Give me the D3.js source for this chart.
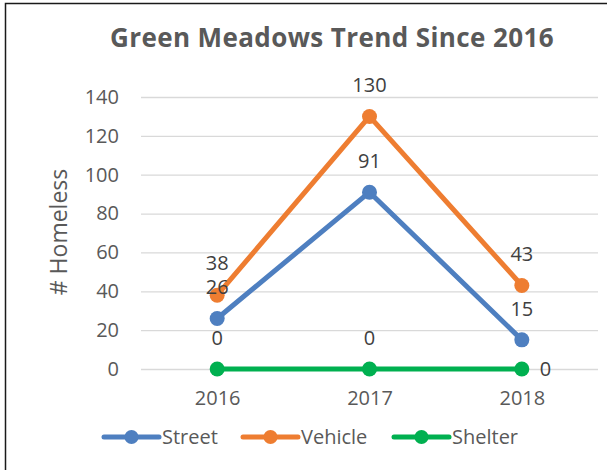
<!DOCTYPE html>
<html>
<head>
<meta charset="utf-8">
<script src="https://cdn.jsdelivr.net/npm/d3@7"></script>
<style>
  body { margin: 0; background: #fff; }
  svg { display: block; font-family: "Open Sans", "Noto Sans", sans-serif; }
</style>
</head>
<body>
<div id="chart"></div>
<script>
var years = ["2016", "2017", "2018"];
var street = [26, 91, 15];
var vehicle = [38, 130, 43];
var shelter = [0, 0, 0];
var yTicks = [0, 20, 40, 60, 80, 100, 120, 140];

var width = 607,
	height = 470;

var svg = d3.select("#chart")
	.append("svg")
	.attr("width", width)
	.attr("height", height);

// chart border (right and bottom fall outside the frame)
svg.append("rect")
	.attr("x", 5.5).attr("y", 3.5)
	.attr("width", 640).attr("height", 500)
	.attr("fill", "#fff")
	.attr("stroke", "#1a1a1a")
	.attr("stroke-width", 1.5);

var x = d3.scalePoint()
	.domain(years)
	.range([141, 598])
	.padding(0.5);

var y = d3.scaleLinear()
	.domain([0, 140])
	.range([369, 97]);

svg.append("text")
	.attr("x", 332).attr("y", 47)
	.attr("text-anchor", "middle")
	.attr("font-size", 26)
	.attr("font-weight", "bold")
	.attr("letter-spacing", 0.4)
	.attr("fill", "#595959")
	.text("Green Meadows Trend Since 2016");

// gridlines
svg.append("g")
	.selectAll("line")
	.data(yTicks)
	.enter().append("line")
	.attr("x1", 141).attr("x2", 598)
	.attr("y1", function(d) { return y(d) + 0.5; })
	.attr("y2", function(d) { return y(d) + 0.5; })
	.attr("stroke", "#d9d9d9")
	.attr("stroke-width", 1.3);

var yAxis = svg.append("g")
	.attr("transform", "translate(141,0)")
	.call(d3.axisLeft(y).tickValues(yTicks).tickSize(0).tickPadding(22));
yAxis.select(".domain").remove();
yAxis.selectAll("text")
	.attr("font-size", 20)
	.attr("font-family", "'Open Sans', sans-serif")
	.attr("fill", "#595959");

var xAxis = svg.append("g")
	.attr("transform", "translate(0,369)")
	.call(d3.axisBottom(x).tickSize(0).tickPadding(22));
xAxis.select(".domain").remove();
xAxis.selectAll("text")
	.attr("font-size", 20)
	.attr("font-family", "'Open Sans', sans-serif")
	.attr("fill", "#595959");

svg.append("text")
	.attr("transform", "translate(67,232) rotate(-90)")
	.attr("text-anchor", "middle")
	.attr("font-size", 23)
	.attr("fill", "#595959")
	.text("# Homeless");

var series = [
	{ name: "Street", values: street, color: "#4e7fc0", labelPos: ["above", "above", "above"] },
	{ name: "Vehicle", values: vehicle, color: "#ee7d31", labelPos: ["above", "above", "above"] },
	{ name: "Shelter", values: shelter, color: "#00b050", labelPos: ["above", "above", "right"] }
];

var line = d3.line()
	.x(function(d, i) { return x(years[i]); })
	.y(function(d) { return y(d); });

series.forEach(function(s) {
	var g = svg.append("g");
	g.append("path")
		.datum(s.values)
		.attr("d", line)
		.attr("fill", "none")
		.attr("stroke", s.color)
		.attr("stroke-width", 5)
		.attr("stroke-linejoin", "round");
	g.selectAll("circle")
		.data(s.values)
		.enter().append("circle")
		.attr("cx", function(d, i) { return x(years[i]); })
		.attr("cy", function(d) { return y(d); })
		.attr("r", 7.5)
		.attr("fill", s.color);
});

// data labels (the 2016 street/vehicle pair sits tight, as in the original)
series.forEach(function(s) {
	svg.append("g")
		.selectAll("text")
		.data(s.values)
		.enter().append("text")
		.attr("x", function(d, i) {
			return s.labelPos[i] === "right" ? x(years[i]) + 18 : x(years[i]);
		})
		.attr("y", function(d, i) {
			if (s.labelPos[i] === "right") return y(d) + 7;
			return s.name === "Vehicle" && i === 0 ? y(d) - 25 : y(d) - 24;
		})
		.attr("text-anchor", function(d, i) {
			return s.labelPos[i] === "right" ? "start" : "middle";
		})
		.attr("font-size", 20)
		.attr("fill", "#404040")
		.text(function(d) { return d; });
});

// legend
var legendX = [104, 243, 394];
var legend = svg.append("g")
	.selectAll("g")
	.data(series)
	.enter().append("g")
	.attr("transform", function(d, i) { return "translate(" + legendX[i] + ",437)"; });

legend.append("line")
	.attr("x1", 0).attr("x2", 55)
	.attr("stroke", function(d) { return d.color; })
	.attr("stroke-width", 5)
	.attr("stroke-linecap", "round");
legend.append("circle")
	.attr("cx", 27.5)
	.attr("r", 7)
	.attr("fill", function(d) { return d.color; });
legend.append("text")
	.attr("x", 58)
	.attr("y", 7)
	.attr("font-size", 20)
	.attr("fill", "#595959")
	.text(function(d) { return d.name; });
</script>
</body>
</html>
